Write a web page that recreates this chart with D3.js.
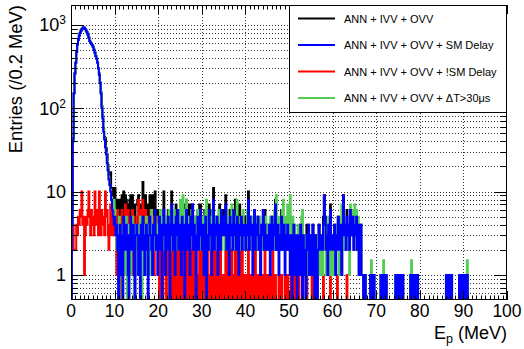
<!DOCTYPE html>
<html><head><meta charset="utf-8">
<script src="https://cdn.jsdelivr.net/npm/d3@7/dist/d3.min.js"></script>
<style>body{margin:0;background:#fff}svg{display:block}text{font-family:"Liberation Sans",Arial,Helvetica,sans-serif}</style>
</head><body><svg id="c" width="524" height="349"></svg>
<script>
const binWidth = 0.2;
const xTicks = [0,10,20,30,40,50,60,70,80,90,100];
const yTicks = [1,10,100,1000];
const yTickLabels = [["1",""],["10",""],["10","2"],["10","3"]];
const seriesNames = ["ANN + IVV + OVV","ANN + IVV + OVV + SM Delay","ANN + IVV + OVV + !SM Delay","ANN + IVV + OVV + \u0394T>30\u03bcs"];

const blackVals = [
0,7,44,152,262,352,474,583,665,744,806,855,890,914,935,921,893,855,814,766,710,645,613,596,574,
545,503,470,424,396,355,303,260,204,153,106,80,56,45,44,33,28,21,16,16,17,11,11,9,7,
11,7,5,8,3,8,4,5,9,3,10,5,9,8,6,7,2,8,9,3,9,7,6,2,7,
7,8,9,7,6,6,7,13,6,5,9,6,7,3,4,9,9,4,4,9,4,10,5,5,6,
5,5,5,5,2,3,10,4,3,4,5,6,5,0,5,10,3,4,5,1,7,4,6,5,5,
3,3,6,2,7,1,3,8,2,5,7,1,7,4,7,5,5,3,2,3,6,2,7,7,3,
4,4,2,6,5,1,5,2,7,3,6,2,3,11,3,4,5,5,2,3,7,4,6,4,4,
6,3,9,2,5,6,1,6,3,6,3,6,4,8,2,7,4,1,7,4,5,4,3,5,3,
2,5,3,10,2,5,4,4,2,3,6,4,4,4,5,2,4,1,4,4,6,2,6,3,2,
4,2,4,2,3,5,4,4,3,8,2,3,4,2,3,2,6,3,2,4,2,3,2,5,3,
2,1,4,0,2,4,2,3,2,0,3,3,1,4,2,1,3,1,2,0,4,2,4,1,2,
3,2,4,2,0,3,1,1,2,4,3,2,3,2,5,9,5,2,3,1,4,2,7,3,2,
3,2,4,1,3,3,5,3,2,4,1,3,9,4,3,2,6,3,4,2,6,3,4,5,2,
4,3,5,2,4,1,3,4,1,1,0,1,1,0,0,0,0,0,1,1,0,1,1,0,0,
0,0,0,0,0,1,0,1,1,0,1,1,0,0,0,0,0,0,0,0,0,0,1,0,1,
1,0,1,1,0,1,0,0,0,0,0,0,0,0,1,1,0,1,0,1,1,0,1,0,0,
0,0,0,0,0,0,0,0,0,0,0,0,0,0,0,0,0,0,0,0,0,0,0,0,0,
0,0,0,0,0,1,0,1,1,0,1,1,0,0,0,0,0,0,0,0,1,1,0,1,0,
1,1,0,1,1,0,0,0,0,0,0,0,0,0,0,0,0,0,0,0,0,0,0,0,0,
0,0,0,0,0,0,0,0,0,0,0,0,0,0,0,0,0,0,0,0,0,0,0,0,0];

const blueVals = [
0,4,40,150,260,350,470,580,660,740,800,850,880,910,930,920,890,850,810,760,700,640,610,590,570,
540,500,460,420,390,350,300,250,200,150,100,75,52,42,34,28,22,18,14,12,10,8,6,5,4,
5,3,4,2,0,3,4,1,3,0,5,3,2,4,3,1,0,3,5,2,3,4,1,0,3,
4,3,1,3,0,4,2,5,3,1,3,4,2,0,3,5,3,2,1,4,3,6,2,3,1,
3,5,2,4,0,3,6,3,1,4,2,5,3,0,4,7,3,2,4,1,5,3,6,2,4,
3,1,5,2,4,0,3,6,2,4,3,1,5,3,7,2,4,3,0,3,5,2,4,6,3,
2,4,1,3,5,0,3,2,6,3,4,1,3,8,2,4,3,5,1,3,4,2,6,3,4,
5,3,7,2,4,3,1,5,3,4,2,6,3,4,2,5,3,1,4,3,5,2,3,4,3,
2,4,3,8,2,5,3,4,1,3,6,2,4,3,5,2,3,1,4,3,6,2,4,3,2,
3,2,4,1,3,5,2,4,3,7,2,3,4,1,3,2,5,3,2,4,1,3,2,4,3,
2,1,3,0,2,4,1,3,2,0,3,2,1,4,2,0,3,1,2,0,3,2,4,1,2,
3,1,4,2,0,3,1,0,2,4,3,2,3,2,4,9,5,2,3,1,4,2,6,3,2,
3,2,4,1,3,2,5,3,2,4,1,3,9,4,3,2,5,3,4,2,6,3,4,5,2,
4,3,5,2,4,1,3,4,1,1,0,1,1,0,0,0,0,0,1,1,0,1,1,0,0,
0,0,0,0,0,1,0,1,1,0,1,1,0,0,0,0,0,0,0,0,0,0,1,0,1,
1,0,1,1,0,1,0,0,0,0,0,0,0,0,1,1,0,1,0,1,1,0,1,0,0,
0,0,0,0,0,0,0,0,0,0,0,0,0,0,0,0,0,0,0,0,0,0,0,0,0,
0,0,0,0,0,1,0,1,1,0,1,1,0,0,0,0,0,0,0,0,1,1,0,1,0,
1,1,0,1,1,0,0,0,0,0,0,0,0,0,0,0,0,0,0,0,0,0,0,0,0,
0,0,0,0,0,0,0,0,0,0,0,0,0,0,0,0,0,0,0,0,0,0,0,0,0];

const redVals = [
0,3,4,2,2,2,4,3,5,4,6,5,10,4,5,1,3,5,4,6,10,5,3,6,4,
5,3,10,4,6,5,3,10,4,3,6,5,4,3,10,5,6,3,2,4,7,3,5,4,3,
6,4,1,6,3,5,0,4,6,3,5,2,7,4,3,6,2,5,4,1,6,3,5,2,4,
3,5,8,4,6,2,5,8,3,4,6,2,5,3,1,4,6,2,3,5,1,4,3,2,5,
2,0,3,1,2,0,4,1,2,0,3,1,2,0,1,3,0,2,1,0,2,1,0,3,1,
0,2,1,0,3,1,0,2,0,1,4,0,2,1,0,3,1,0,2,0,1,0,3,1,0,
2,0,1,3,0,1,2,0,1,0,2,1,0,3,1,0,2,0,1,0,3,2,0,1,0,
1,0,2,0,1,3,0,1,0,2,1,0,1,4,0,2,1,0,3,1,0,2,0,1,0,
0,1,0,2,0,0,1,0,1,0,0,2,0,1,0,0,1,0,0,1,0,0,2,0,0,
1,0,0,1,0,0,2,0,0,1,0,0,0,1,0,0,1,0,0,0,1,0,0,1,0,
0,0,1,0,0,0,1,0,0,0,0,1,0,0,0,1,0,0,0,0,1,0,0,0,0,
0,1,0,0,0,0,0,1,0,0,0,0,0,0,1,0,0,0,0,0,0,0,1,0,0,
0,0,0,0,0,1,0,0,0,0,0,0,0,0,0,0,1,0,0,0,0,0,0,0,0,
0,0,0,0,0,0,0,0,0,0,0,0,0,0,0,0,0,0,0,0,0,0,0,0,0,
0,0,0,0,0,0,0,0,0,0,0,0,0,0,0,0,0,0,0,0,0,0,0,0,0,
0,0,0,0,0,0,0,0,0,0,0,0,0,0,0,0,0,0,0,0,0,0,0,0,0,
0,0,0,0,0,0,0,0,0,0,0,0,0,0,0,0,0,0,0,0,0,0,0,0,0,
0,0,0,0,0,0,0,0,0,0,0,0,0,0,0,0,0,0,0,0,0,0,0,0,0,
0,0,0,0,0,0,0,0,0,0,0,0,0,0,0,0,0,0,0,0,0,0,0,0,0,
0,0,0,0,0,0,0,0,0,0,0,0,0,0,0,0,0,0,0,0,0,0,0,0,0];

const greenVals = [
0,4,40,150,262,352,472,582,662,742,802,852,882,912,932,922,892,852,812,762,702,645,615,595,575,
545,505,465,425,395,355,305,255,205,155,104,78,55,44,35,29,23,18,14,12,10,8,7,6,8,
6,4,2,3,1,5,2,3,0,4,2,1,3,5,0,2,4,3,1,3,5,2,0,4,2,
3,1,4,2,5,3,0,2,4,3,1,5,3,2,4,1,3,6,2,3,4,2,5,3,2,
4,2,6,3,5,2,3,4,2,5,3,2,6,3,2,4,5,3,6,2,4,3,2,5,3,
8,4,5,9,3,6,4,8,3,5,2,4,3,6,4,3,5,2,4,3,6,4,2,5,3,
3,5,4,2,6,8,3,4,3,5,2,4,6,3,4,2,5,3,4,6,3,4,2,5,3,
4,2,5,3,6,4,2,5,3,7,4,3,5,2,4,8,3,4,2,5,3,4,6,3,2,
4,3,6,5,3,4,2,5,3,4,2,5,3,4,2,3,5,2,4,3,2,4,3,5,3,
2,4,3,5,2,3,4,2,6,3,9,4,3,5,2,4,3,6,8,3,5,2,4,7,3,
4,9,2,3,5,2,4,1,3,2,4,2,3,1,5,6,2,3,1,2,3,1,2,3,1,
2,1,3,1,2,0,2,1,3,2,1,3,2,1,2,4,3,1,2,3,5,1,3,2,1,
2,3,1,2,4,2,3,1,2,5,7,3,6,2,4,3,2,4,3,1,7,5,3,6,4,
7,3,6,4,5,2,3,2,1,1,0,1,1,0,0,0,0,0,1,1.5,0,1,1,0,0,
0,0,0,0,0,1,0,1,1.5,0,1,1,0,0,0,0,0,0,0,0,0,0,1,0,1,
1,0,1,1,0,1,0,0,0,0,0,0,0,0,1,1.5,0,1,0,1,1,0,1,0,0,
0,0,0,0,0,0,0,0,0,0,0,0,0,0,0,0,0,0,0,0,0,0,0,0,0,
0,0,0,0,0,1,0,1,1,0,1,1,0,0,0,0,0,0,0,0,1,1,0,1,0,
1,1,0,1,1.5,0,0,0,0,0,0,0,0,0,0,0,0,0,0,0,0,0,0,0,0,
0,0,0,0,0,0,0,0,0,0,0,0,0,0,0,0,0,0,0,0,0,0,0,0,0];

const seriesColors = ["#000000","#0000ff","#ff0000","#55cc55"];
const seriesData = [blackVals, blueVals, redVals, greenVals];
const drawOrder = [0,2,3,1];

const svg = d3.select("#c");
const L = 71, R = 507, T = 5, B = 300;
const yMin = 0.5, yMax = 1730;
const x = d3.scaleLinear().domain([0,100]).range([L,R]);
const y = d3.scaleLog().domain([yMin,yMax]).range([B,T]);

svg.append("defs").append("clipPath").attr("id","clip")
  .append("rect").attr("x",L).attr("y",T).attr("width",R-L).attr("height",B-T);

// grid
const gridVals = [];
for (let p = -1; p <= 3; p++) for (let k = 1; k <= 9; k++) {
  const v = k*Math.pow(10,p);
  if (v > yMin && v < yMax) gridVals.push(v);
}
const grid = svg.append("g").attr("stroke","#333").attr("stroke-width",1).attr("stroke-dasharray","1,2");
grid.selectAll("line.h").data(gridVals).enter().append("line")
  .attr("x1",L).attr("x2",R).attr("y1",d=>Math.round(y(d))+0.5).attr("y2",d=>Math.round(y(d))+0.5);
grid.selectAll("line.v").data(xTicks.slice(1,-1)).enter().append("line")
  .attr("y1",T).attr("y2",B).attr("x1",d=>Math.round(x(d))+0.5).attr("x2",d=>Math.round(x(d))+0.5);

// histograms
const line = d3.line().curve(d3.curveStepAfter).x(d=>x(d[0])).y(d=>y(Math.max(d[1],yMin*0.98)));
const hg = svg.append("g").attr("clip-path","url(#clip)");
drawOrder.forEach(si => {
  const vals = seriesData[si];
  const pts = vals.map((v,i)=>[i*binWidth, v]);
  pts.push([vals.length*binWidth, vals[vals.length-1]]);
  hg.append("path").attr("d", line(pts)).attr("fill","none")
    .attr("stroke", seriesColors[si]).attr("stroke-width",2).attr("stroke-linejoin","miter");
});

// frame
svg.append("rect").attr("x",L+0.5).attr("y",T+0.5).attr("width",R-L-1).attr("height",B-T-1)
  .attr("fill","none").attr("stroke","#000").attr("stroke-width",1);

// x ticks
const tg = svg.append("g").attr("stroke","#000").attr("stroke-width",1);
const xMinor = d3.range(0,101,1);
tg.selectAll("line.xb").data(xMinor).enter().append("line")
  .attr("x1",d=>Math.round(x(d))+0.5).attr("x2",d=>Math.round(x(d))+0.5)
  .attr("y1",B).attr("y2",d=> B - (d%10===0?9:4.5));
tg.selectAll("line.xt").data(xMinor).enter().append("line")
  .attr("x1",d=>Math.round(x(d))+0.5).attr("x2",d=>Math.round(x(d))+0.5)
  .attr("y1",T).attr("y2",d=> T + (d%10===0?9:4.5));
// y ticks
tg.selectAll("line.yl").data(gridVals).enter().append("line")
  .attr("y1",d=>Math.round(y(d))+0.5).attr("y2",d=>Math.round(y(d))+0.5)
  .attr("x1",L).attr("x2",d=> L + (yTicks.includes(d)?13:6.5));
tg.selectAll("line.yr").data(gridVals).enter().append("line")
  .attr("y1",d=>Math.round(y(d))+0.5).attr("y2",d=>Math.round(y(d))+0.5)
  .attr("x1",R).attr("x2",d=> R - (yTicks.includes(d)?13:6.5));

// x labels
svg.append("g").selectAll("text").data(xTicks).enter().append("text")
  .attr("x",d=>x(d)).attr("y",317).attr("text-anchor","middle")
  .attr("font-size",17.5).text(d=>d);
// y labels
const yl = svg.append("g").selectAll("text").data(yTicks).enter().append("text")
  .attr("x",66).attr("y",d=>y(d)+6.5).attr("text-anchor","end").attr("font-size",18);
yl.each(function(d,i){
  const t = d3.select(this);
  t.append("tspan").text(yTickLabels[i][0]);
  if (yTickLabels[i][1]) t.append("tspan").attr("dy",-7).attr("font-size",12).text(yTickLabels[i][1]);
});

// axis titles
const xt = svg.append("text").attr("x",507).attr("y",339).attr("text-anchor","end").attr("font-size",18);
xt.append("tspan").text("E");
xt.append("tspan").attr("dy",4).attr("font-size",12.5).text("p");
xt.append("tspan").attr("dy",-4).text(" (MeV)");
svg.append("text").attr("transform","translate(22,5) rotate(-90)").attr("text-anchor","end")
  .attr("font-size",18.4).text("Entries (/0.2 MeV)");

// legend
const lg = svg.append("g");
lg.append("rect").attr("x",289.5).attr("y",5.5).attr("width",217).attr("height",107)
  .attr("fill","#fff").attr("stroke","#000").attr("stroke-width",1);
const legOrder = [0,1,2,3];
const legY = [18.5,45,71.5,98];
legOrder.forEach((si,k)=>{
  lg.append("line").attr("x1",298).attr("x2",335).attr("y1",legY[k]).attr("y2",legY[k])
    .attr("stroke",seriesColors[si]).attr("stroke-width",2);
  lg.append("text").attr("x",344).attr("y",legY[k]+4).attr("font-size",11).text(seriesNames[si]);
});
</script></body></html>
